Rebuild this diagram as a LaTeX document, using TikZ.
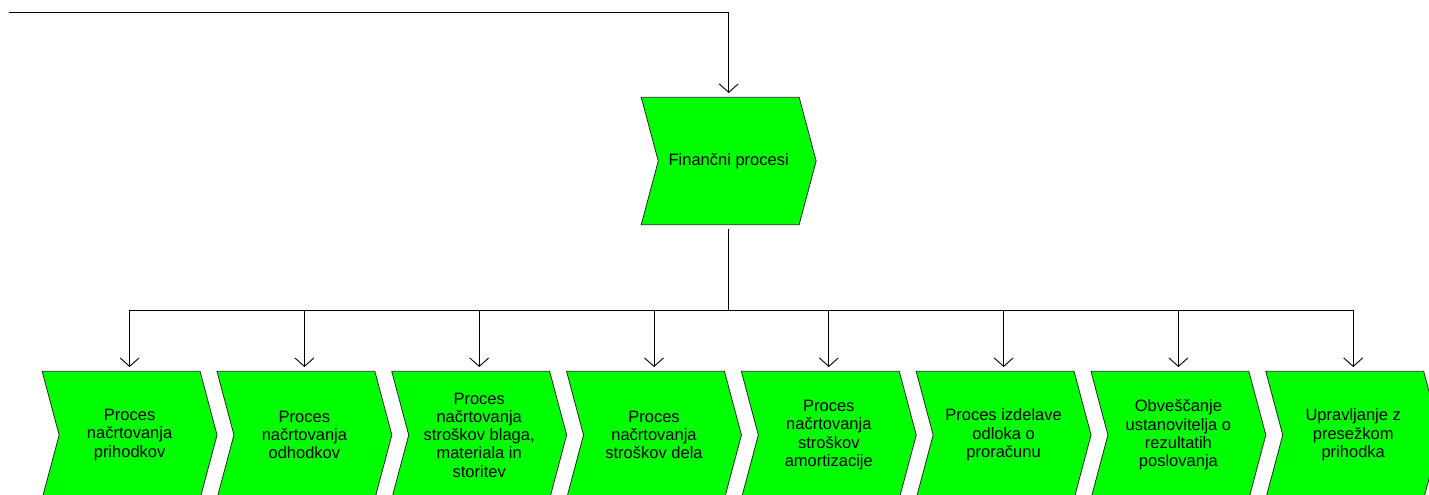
\documentclass[tikz,border=0pt]{standalone}
\usepackage{fontspec}
\setmainfont{Liberation Sans}
\usetikzlibrary{arrows.meta,backgrounds}
\definecolor{procgreen}{RGB}{0,255,0}
\definecolor{edgegray}{RGB}{40,40,40}

\tikzset{
  procbox/.style={rectangle, inner sep=0pt, minimum width=174.5pt, minimum height=127pt,
    align=center, text=black, font={\fontsize{16.5pt}{18.3pt}\selectfont}},
  chevron/.style={fill=procgreen, draw=edgegray, line width=0.8pt, line join=miter},
  link/.style={draw=black, line width=0.9pt},
  linkarrow/.style={link, -{Straight Barb[length=8.5pt,width=19pt,line width=0.9pt]}, shorten >=4.3pt},
}

% chevron outline around a process node
\newcommand{\procchevron}[1]{%
  \path[chevron] (#1.north west) -- ([xshift=-17pt]#1.north east) -- (#1.east)
    -- ([xshift=-17pt]#1.south east) -- (#1.south west) -- ([xshift=17pt]#1.west) -- cycle;}

\begin{document}
\begin{tikzpicture}[x=1pt,y=-1pt]
\clip (0,0) rectangle (1429,495);

% main process
\node[procbox] (fin) at (728.7,161) {Finančni procesi};

% sub-processes
\node[procbox] (p1) at (129.6,435) {Proces\\načrtovanja\\prihodkov};
\node[procbox] (p2) at (304.4,435) {Proces\\načrtovanja\\odhodkov};
\node[procbox] (p3) at (479.2,435) {Proces\\načrtovanja\\stroškov blaga,\\materiala in\\storitev};
\node[procbox] (p4) at (654.0,435) {Proces\\načrtovanja\\stroškov dela};
\node[procbox] (p5) at (828.8,435) {Proces\\načrtovanja\\stroškov\\amortizacije};
\node[procbox] (p6) at (1003.6,435) {Proces izdelave\\odloka o\\proračunu};
\node[procbox] (p7) at (1178.4,435) {Obveščanje\\ustanovitelja o\\rezultatih\\poslovanja};
\node[procbox] (p8) at (1353.2,435) {Upravljanje z\\presežkom\\prihodka};

\begin{scope}[on background layer]
  \foreach \n in {fin,p1,p2,p3,p4,p5,p6,p7,p8} {\procchevron{\n}}
\end{scope}

% incoming connector
\coordinate (entry) at (9,12.3);
\draw[linkarrow] (entry) -| (fin.north);

% distribution bus
\coordinate (bus) at (728.7,310.3);
\draw[link, shorten <=4.7pt] (fin.south) -- (bus);
\foreach \n in {p1,p2,p3,p4,p5,p6,p7,p8} {
  \draw[linkarrow] (bus) -| (\n.north);
}
\end{tikzpicture}
\end{document}
